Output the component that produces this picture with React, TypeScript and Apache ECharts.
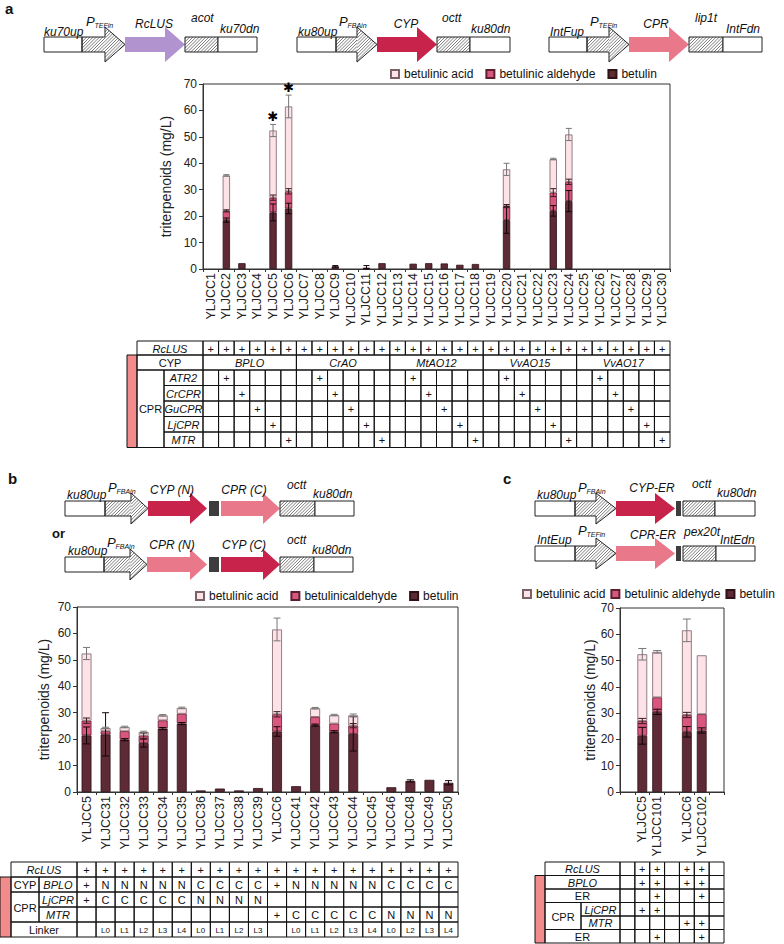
import React, { useEffect, useRef } from 'react';
import * as echarts from 'echarts';

const FONT = 'Liberation Sans, Arial, Helvetica, sans-serif';
const W = 784;
const H = 944;

// ---------------- data ----------------
const namesAC = ['betulin', 'betulinic aldehyde', 'betulinic acid'];
const namesB = ['betulin', 'betulinicaldehyde', 'betulinic acid'];
const legendAC = ['betulinic acid', 'betulinic aldehyde', 'betulin'];
const legendB = ['betulinic acid', 'betulinicaldehyde', 'betulin'];
const yTicks = { min: 0, max: 70, interval: 10 };

const catsA = ['YLJCC1', 'YLJCC2', 'YLJCC3', 'YLJCC4', 'YLJCC5', 'YLJCC6', 'YLJCC7', 'YLJCC8', 'YLJCC9', 'YLJCC10', 'YLJCC11', 'YLJCC12', 'YLJCC13', 'YLJCC14', 'YLJCC15', 'YLJCC16', 'YLJCC17', 'YLJCC18', 'YLJCC19', 'YLJCC20', 'YLJCC21', 'YLJCC22', 'YLJCC23', 'YLJCC24', 'YLJCC25', 'YLJCC26', 'YLJCC27', 'YLJCC28', 'YLJCC29', 'YLJCC30'];
const betulinA = [0, 18.5, 2.2, 0, 21.4, 22.9, 0, 0, 1.0, 0, 0.5, 2.2, 0, 2.0, 2.2, 2.1, 1.6, 1.9, 0, 18.5, 0, 0, 22.0, 25.7, 0, 0, 0, 0, 0, 0];
const aldehydeA = [0, 3.5, 0, 0, 5.6, 6.5, 0, 0, 0, 0, 0, 0, 0, 0, 0, 0, 0, 0, 0, 5.3, 0, 0, 6.9, 7.3, 0, 0, 0, 0, 0, 0];
const acidA = [0, 13.4, 0, 0, 25.4, 32.1, 0, 0, 0, 0, 0, 0, 0, 0, 0, 0, 0, 0, 0, 13.9, 0, 0, 12.7, 17.9, 0, 0, 0, 0, 0, 0];
const errBetulinA = [0, 0.8, 0, 0, 3.2, 2.0, 0, 0, 0.3, 0, 0.8, 0, 0, 0, 0, 0, 0, 0, 0, 5.0, 0, 0, 2.0, 4.0, 0, 0, 0, 0, 0, 0];
const errAldehydeA = [0, 0.4, 0, 0, 1.0, 1.0, 0, 0, 0, 0, 0, 0, 0, 0, 0, 0, 0, 0, 0, 0.6, 0, 0, 1.5, 1.0, 0, 0, 0, 0, 0, 0];
const errAcidA = [0, 0.3, 0, 0, 2.3, 4.3, 0, 0, 0, 0, 0, 0, 0, 0, 0, 0, 0, 0, 0, 2.3, 0, 0, 0.3, 2.3, 0, 0, 0, 0, 0, 0];
const starsA = ['YLJCC5', 'YLJCC6'];

const catsB = ['YLJCC5', 'YLJCC31', 'YLJCC32', 'YLJCC33', 'YLJCC34', 'YLJCC35', 'YLJCC36', 'YLJCC37', 'YLJCC38', 'YLJCC39', 'YLJCC6', 'YLJCC41', 'YLJCC42', 'YLJCC43', 'YLJCC44', 'YLJCC45', 'YLJCC46', 'YLJCC48', 'YLJCC49', 'YLJCC50'];
const betulinB = [21.4, 21.8, 19.8, 18.5, 24.0, 25.9, 0.6, 1.3, 0.6, 1.5, 22.9, 2.2, 25.3, 22.8, 22.0, 0, 1.8, 4.2, 4.6, 3.5];
const aldehydeB = [5.6, 1.2, 3.2, 2.8, 3.1, 3.7, 0, 0, 0, 0, 6.5, 0, 3.1, 3.1, 3.1, 0, 0, 0, 0, 0];
const acidB = [25.4, 1.2, 1.6, 1.4, 1.9, 2.2, 0, 0, 0, 0, 32.1, 0, 3.3, 3.2, 3.9, 0, 0, 0, 0, 0];
const errBetulinB = [3.2, 8.2, 0.4, 1.5, 0.4, 0.4, 0, 0, 0, 0, 1.8, 0, 0.4, 0.4, 6.5, 0, 0, 0.4, 0, 0.8];
const errAldehydeB = [1.0, 0, 0, 1.0, 0, 0, 0, 0, 0, 0, 1.0, 0, 0, 0, 0.8, 0, 0, 0, 0, 0];
const errAcidB = [2.3, 0.3, 0.3, 0.3, 0.3, 0.3, 0, 0, 0, 0, 4.3, 0, 0.3, 0.3, 0.5, 0, 0, 0, 0, 0];

const catsC = [' ', 'YLJCC5', 'YLJCC101', '  ', 'YLJCC6', 'YLJCC102', '   '];
const betulinC = [0, 21.4, 30.5, 0, 22.9, 23.4, 0];
const aldehydeC = [0, 5.6, 5.5, 0, 6.4, 6.2, 0];
const acidC = [0, 25.4, 17.3, 0, 32.2, 22.4, 0];
const errBetulinC = [0, 3.2, 1.0, 0, 2.0, 1.0, 0];
const errAldehydeC = [0, 1.0, 0, 0, 1.0, 0, 0];
const errAcidC = [0, 2.2, 0.5, 0, 4.3, 0, 0];

// table a
const rclusA = ['+', '+', '+', '+', '+', '+', '+', '+', '+', '+', '+', '+', '+', '+', '+', '+', '+', '+', '+', '+', '+', '+', '+', '+', '+', '+', '+', '+', '+', '+'];
const cypGroupsA = ['BPLO', 'CrAO', 'MtAO12', 'VvAO15', 'VvAO17'];
const cprRowsA = ['ATR2', 'CrCPR', 'GuCPR', 'LjCPR', 'MTR'];
const cprOfStrainA = ['', 'ATR2', 'CrCPR', 'GuCPR', 'LjCPR', 'MTR', '', 'ATR2', 'CrCPR', 'GuCPR', 'LjCPR', 'MTR', '', 'ATR2', 'CrCPR', 'GuCPR', 'LjCPR', 'MTR', '', 'ATR2', 'CrCPR', 'GuCPR', 'LjCPR', 'MTR', '', 'ATR2', 'CrCPR', 'GuCPR', 'LjCPR', 'MTR'];

// table b
const rclusB = ['+', '+', '+', '+', '+', '+', '+', '+', '+', '+', '+', '+', '+', '+', '+', '+', '+', '+', '+', '+'];
const bploB = ['+', 'N', 'N', 'N', 'N', 'N', 'C', 'C', 'C', 'C', '+', 'N', 'N', 'N', 'N', 'N', 'C', 'C', 'C', 'C'];
const ljcprB = ['+', 'C', 'C', 'C', 'C', 'C', 'N', 'N', 'N', 'N', '', '', '', '', '', '', '', '', '', ''];
const mtrB = ['', '', '', '', '', '', '', '', '', '', '+', 'C', 'C', 'C', 'C', 'C', 'N', 'N', 'N', 'N'];
const linkerB = ['', 'L0', 'L1', 'L2', 'L3', 'L4', 'L0', 'L1', 'L2', 'L3', '', 'L0', 'L1', 'L2', 'L3', 'L4', 'L0', 'L2', 'L3', 'L4'];

// table c
const rclusC = ['', '+', '+', '', '+', '+', ''];
const bploC = ['', '+', '+', '', '+', '+', ''];
const cypErC = ['', '', '+', '', '', '+', ''];
const ljcprC = ['', '+', '+', '', '', '', ''];
const mtrC = ['', '', '', '', '+', '+', ''];
const cprErC = ['', '', '+', '', '', '+', ''];

// ---------------- layout ----------------
const GA = { left: 203, top: 84, width: 467, height: 185 };
const GB = { left: 77, top: 607, width: 381, height: 185 };
const GC = { left: 620, top: 608, width: 104, height: 184 };

const COL_BET = '#5e2a36';
const COL_ALD = '#d9577f';
const COL_ACID = '#fde2e8';
const COL_CYP = '#c8234a';
const COL_CPR = '#e9788b';
const COL_LUS = '#b193cf';
const COL_PINK = '#f28b8b';
const INK = '#111';

// ---------------- helpers ----------------
function txt(text: string, x: number, y: number, o: any = {}): any {
  const align = o.align || 'left';
  const va = o.va || 'middle';
  return {
    type: 'text',
    silent: true,
    z: 20,
    style: {
      text, x, y,
      fill: o.fill || INK,
      fontSize: o.size || 12,
      fontFamily: FONT,
      fontStyle: o.italic ? 'italic' : 'normal',
      fontWeight: o.bold ? 'bold' : 'normal',
      align, textAlign: align,
      verticalAlign: va, textVerticalAlign: va,
    },
  };
}

function rectEl(x: number, y: number, w: number, h: number, fill: string, stroke?: string, lw = 1, z = 10): any {
  return {
    type: 'rect', silent: true, z,
    shape: { x, y, width: w, height: h },
    style: { fill, stroke: stroke || 'none', lineWidth: stroke ? lw : 0 },
  };
}

function clipConvex(poly: number[][], p0: number[], p1: number[]): number[][] | null {
  const n = poly.length;
  let area = 0;
  for (let i = 0; i < n; i++) {
    const a = poly[i], b = poly[(i + 1) % n];
    area += a[0] * b[1] - b[0] * a[1];
  }
  const s = area > 0 ? 1 : -1;
  let t0 = 0, t1 = 1;
  const dx = p1[0] - p0[0], dy = p1[1] - p0[1];
  for (let i = 0; i < n; i++) {
    const a = poly[i], b = poly[(i + 1) % n];
    const ex = b[0] - a[0], ey = b[1] - a[1];
    const nx = -ey * s, ny = ex * s;
    const N = nx * (p0[0] - a[0]) + ny * (p0[1] - a[1]);
    const D = nx * dx + ny * dy;
    if (Math.abs(D) < 1e-9) { if (N < 0) return null; continue; }
    const t = -N / D;
    if (D > 0) t0 = Math.max(t0, t); else t1 = Math.min(t1, t);
    if (t0 > t1) return null;
  }
  return [[p0[0] + dx * t0, p0[1] + dy * t0], [p0[0] + dx * t1, p0[1] + dy * t1]];
}

function hatch(poly: number[][], sp = 3.2): any[] {
  const xs = poly.map((p) => p[0]), ys = poly.map((p) => p[1]);
  const minX = Math.min(...xs), maxX = Math.max(...xs), minY = Math.min(...ys), maxY = Math.max(...ys);
  const out: any[] = [];
  for (let c = minX + minY + sp / 2; c < maxX + maxY; c += sp) {
    const p0 = [minX - 2, c - (minX - 2)], p1 = [maxX + 2, c - (maxX + 2)];
    const seg = clipConvex(poly, p0, p1);
    if (seg) {
      out.push({
        type: 'line', silent: true, z: 11,
        shape: { x1: seg[0][0], y1: seg[0][1], x2: seg[1][0], y2: seg[1][1] },
        style: { stroke: '#444', lineWidth: 0.7 },
      });
    }
  }
  return out;
}

type Part = [string, number, number, string?];
function construct(parts: Part[], top: number, headLen: number, ext: number): any[] {
  const h = 15, mid = top + h / 2;
  const els: any[] = [];
  for (const [kind, x0, x1, color] of parts) {
    if (kind === 'box') {
      els.push(rectEl(x0, top, x1 - x0, h, '#fff', '#222', 1, 12));
    } else if (kind === 'hatch') {
      els.push(rectEl(x0, top, x1 - x0, h, '#fff', undefined, 0, 10));
      els.push(...hatch([[x0, top], [x1, top], [x1, top + h], [x0, top + h]]));
      els.push(rectEl(x0, top, x1 - x0, h, 'none', '#222', 1, 12));
    } else if (kind === 'prom' || kind === 'gene') {
      const xh = x1 - headLen;
      const pts = [[x0, top], [xh, top], [xh, top - ext], [x1, mid], [xh, top + h + ext], [xh, top + h], [x0, top + h]];
      if (kind === 'gene') {
        els.push({ type: 'polygon', silent: true, z: 10, shape: { points: pts }, style: { fill: color, stroke: 'none' } });
      } else {
        els.push({ type: 'polygon', silent: true, z: 10, shape: { points: pts }, style: { fill: '#fff', stroke: 'none' } });
        els.push(...hatch([[x0, top], [xh, top], [xh, top + h], [x0, top + h]]));
        els.push(...hatch([[xh, top - ext], [x1, mid], [xh, top + h + ext]]));
        els.push({ type: 'polygon', silent: true, z: 12, shape: { points: pts }, style: { fill: 'none', stroke: '#222', lineWidth: 1 } });
      }
    } else if (kind === 'link') {
      els.push(rectEl(x0, top, x1 - x0, h, '#3d3d3d', undefined, 0, 12));
    }
  }
  return els;
}

function promLabel(x: number, y: number, sub: string): any[] {
  return [txt('P', x, y, { italic: true, size: 13 }), txt(sub, x + 8.5, y + 4, { italic: true, size: 7 })];
}

function cell(x: number, y: number, w: number, h: number, text: string, o: any = {}): any[] {
  const els: any[] = [{
    type: 'rect', silent: true, z: 15,
    shape: { x, y, width: w, height: h },
    style: { fill: 'none', stroke: INK, lineWidth: 1 },
  }];
  if (text) els.push(txt(text, x + w / 2, y + h / 2 + 0.5, { align: 'center', size: o.size || 11, italic: o.italic }));
  return els;
}

function buildGraphics(): any[] {
  const g: any[] = [];
  // panel letters
  g.push(txt('a', 5, 8, { bold: true, size: 15 }));
  g.push(txt('b', 8, 478, { bold: true, size: 15 }));
  g.push(txt('c', 503, 478, { bold: true, size: 15 }));
  g.push(txt('or', 52, 533, { bold: true, size: 13 }));

  // ---- constructs a ----
  const ta = 37;
  g.push(...construct([['box', 44, 82], ['prom', 82, 125], ['gene', 125, 185, COL_LUS], ['hatch', 185, 218], ['box', 218, 257]], ta, 20, 10));
  g.push(txt('ku70up', 44, 32, { italic: true }), ...promLabel(86, 21, 'TEFin'), txt('RcLUS', 154, 24, { italic: true, align: 'center' }), txt('acot', 191, 18, { italic: true }), txt('ku70dn', 220, 29, { italic: true }));
  g.push(...construct([['box', 297, 336], ['prom', 336, 377], ['gene', 377, 437, COL_CYP], ['hatch', 437, 470], ['box', 470, 510]], ta, 20, 10));
  g.push(txt('ku80up', 298, 32, { italic: true }), ...promLabel(339, 21, 'FBAin'), txt('CYP', 406, 24, { italic: true, align: 'center' }), txt('octt', 442, 18, { italic: true }), txt('ku80dn', 471, 29, { italic: true }));
  g.push(...construct([['box', 549, 587], ['prom', 587, 629], ['gene', 629, 689, COL_CPR], ['hatch', 689, 723], ['box', 723, 762]], ta, 20, 10));
  g.push(txt('IntFup', 550, 32, { italic: true }), ...promLabel(590, 21, 'TEFin'), txt('CPR', 656, 24, { italic: true, align: 'center' }), txt('lip1t', 695, 18, { italic: true }), txt('IntFdn', 726, 29, { italic: true }));

  // ---- constructs b ----
  const tb1 = 501, tb2 = 557;
  g.push(...construct([['box', 65, 105], ['prom', 105, 148], ['gene', 148, 207, COL_CYP], ['link', 209, 219], ['gene', 221, 280, COL_CPR], ['hatch', 280, 315], ['box', 315, 354]], tb1, 17, 8));
  g.push(txt('ku80up', 67, 495, { italic: true }), ...promLabel(108, 487, 'FBAin'), txt('CYP (N)', 172, 490, { italic: true, align: 'center' }), txt('CPR (C)', 244, 490, { italic: true, align: 'center' }), txt('octt', 287, 485, { italic: true }), txt('ku80dn', 313, 494, { italic: true }));
  g.push(...construct([['box', 65, 104], ['prom', 104, 147], ['gene', 147, 207, COL_CPR], ['link', 209, 219], ['gene', 221, 280, COL_CYP], ['hatch', 280, 314], ['box', 314, 353]], tb2, 17, 8));
  g.push(txt('ku80up', 68, 551, { italic: true }), ...promLabel(107, 542, 'FBAin'), txt('CPR (N)', 172, 545, { italic: true, align: 'center' }), txt('CYP (C)', 244, 545, { italic: true, align: 'center' }), txt('octt', 287, 540, { italic: true }), txt('ku80dn', 312, 550, { italic: true }));

  // ---- constructs c ----
  const tc1 = 501, tc2 = 546;
  g.push(...construct([['box', 535, 575], ['prom', 575, 616], ['gene', 616, 675, COL_CYP], ['link', 676, 681], ['hatch', 683, 715], ['box', 715, 755]], tc1, 20, 8));
  g.push(txt('ku80up', 537, 495, { italic: true }), ...promLabel(578, 487, 'FBAin'), txt('CYP-ER', 652, 488, { italic: true, align: 'center' }), txt('octt', 692, 484, { italic: true }), txt('ku80dn', 717, 493, { italic: true }));
  g.push(...construct([['box', 535, 575], ['prom', 575, 616], ['gene', 616, 675, COL_CPR], ['link', 676, 681], ['hatch', 683, 716], ['box', 716, 755]], tc2, 20, 8));
  g.push(txt('IntEup', 537, 540, { italic: true }), ...promLabel(578, 530, 'TEFin'), txt('CPR-ER', 653, 535, { italic: true, align: 'center' }), txt('pex20t', 684, 532, { italic: true }), txt('IntEdn', 720, 540, { italic: true }));

  // ---- table a ----
  {
    const x0 = 137, x1 = 164, dx = GA.left, cw = GA.width / catsA.length;
    const ry = [341, 355, 370, 385.5, 401, 416.5, 432, 447.5];
    g.push(rectEl(127, ry[1], 10, ry[7] - ry[1], COL_PINK, INK, 1, 14));
    g.push(...cell(x0, ry[0], dx - x0, ry[1] - ry[0], 'RcLUS', { italic: true }));
    rclusA.forEach((v, i) => g.push(...cell(dx + i * cw, ry[0], cw, ry[1] - ry[0], v)));
    g.push(...cell(x0, ry[1], dx - x0, ry[2] - ry[1], 'CYP'));
    const per = catsA.length / cypGroupsA.length;
    cypGroupsA.forEach((nm, gi) => g.push(...cell(dx + gi * per * cw, ry[1], per * cw, ry[2] - ry[1], nm, { italic: true })));
    g.push(...cell(x0, ry[2], x1 - x0, ry[7] - ry[2], 'CPR'));
    cprRowsA.forEach((nm, r) => {
      const y = ry[2 + r], h = ry[3 + r] - ry[2 + r];
      g.push(...cell(x1, y, dx - x1, h, nm, { italic: true }));
      cprOfStrainA.forEach((v, i) => g.push(...cell(dx + i * cw, y, cw, h, v === nm ? '+' : '')));
    });
  }

  // ---- table b ----
  {
    const x0 = 11, x1 = 39, dx = GB.left, cw = GB.width / catsB.length;
    const ry = [862, 877, 892, 907, 922, 937];
    g.push(rectEl(0, ry[1], 11, ry[5] - ry[1], COL_PINK, INK, 1, 14));
    g.push(...cell(x0, ry[0], dx - x0, 15, 'RcLUS', { italic: true }));
    rclusB.forEach((v, i) => g.push(...cell(dx + i * cw, ry[0], cw, 15, v)));
    g.push(...cell(x0, ry[1], x1 - x0, 15, 'CYP'));
    g.push(...cell(x1, ry[1], dx - x1, 15, 'BPLO', { italic: true }));
    bploB.forEach((v, i) => g.push(...cell(dx + i * cw, ry[1], cw, 15, v)));
    g.push(...cell(x0, ry[2], x1 - x0, 30, 'CPR'));
    g.push(...cell(x1, ry[2], dx - x1, 15, 'LjCPR', { italic: true }));
    ljcprB.forEach((v, i) => g.push(...cell(dx + i * cw, ry[2], cw, 15, v)));
    g.push(...cell(x1, ry[3], dx - x1, 15, 'MTR', { italic: true }));
    mtrB.forEach((v, i) => g.push(...cell(dx + i * cw, ry[3], cw, 15, v)));
    g.push(...cell(x0, ry[4], dx - x0, 15, 'Linker'));
    linkerB.forEach((v, i) => g.push(...cell(dx + i * cw, ry[4], cw, 15, v, { size: 8 })));
  }

  // ---- table c ----
  {
    const x0 = 545, x1 = 581, dx = GC.left, cw = GC.width / catsC.length;
    const ry = [862, 875.5, 889, 902.5, 916, 929.5, 943];
    const h = 13.5;
    g.push(rectEl(535, ry[1], 10, ry[6] - ry[1], COL_PINK, INK, 1, 14));
    g.push(...cell(x0, ry[0], dx - x0, h, 'RcLUS', { italic: true }));
    rclusC.forEach((v, i) => g.push(...cell(dx + i * cw, ry[0], cw, h, v)));
    g.push(...cell(x0, ry[1], dx - x0, h, 'BPLO', { italic: true }));
    bploC.forEach((v, i) => g.push(...cell(dx + i * cw, ry[1], cw, h, v)));
    g.push(...cell(x0, ry[2], dx - x0, h, 'ER'));
    cypErC.forEach((v, i) => g.push(...cell(dx + i * cw, ry[2], cw, h, v)));
    g.push(...cell(x0, ry[3], x1 - x0, 2 * h, 'CPR'));
    g.push(...cell(x1, ry[3], dx - x1, h, 'LjCPR', { italic: true }));
    ljcprC.forEach((v, i) => g.push(...cell(dx + i * cw, ry[3], cw, h, v)));
    g.push(...cell(x1, ry[4], dx - x1, h, 'MTR', { italic: true }));
    mtrC.forEach((v, i) => g.push(...cell(dx + i * cw, ry[4], cw, h, v)));
    g.push(...cell(x0, ry[5], dx - x0, h, 'ER'));
    cprErC.forEach((v, i) => g.push(...cell(dx + i * cw, ry[5], cw, h, v)));
  }
  return g;
}

function barSeries(names: string[], vals: number[][], idx: number, stack: string, barWidth: string): any[] {
  const cols = [COL_BET, COL_ALD, COL_ACID];
  const borders = ['#2e1217', '#5a2030', '#7a6166'];
  return vals.map((v, k) => ({
    type: 'bar', name: names[k], stack, xAxisIndex: idx, yAxisIndex: idx, barWidth,
    data: v.map((x) => (x > 0 ? x : null)),
    itemStyle: { color: cols[k], borderColor: borders[k], borderWidth: 0.8 },
    emphasis: { disabled: true }, silent: true,
  }));
}

function errSeries(vals: number[][], errs: number[][], idx: number, cap: number): any {
  const data: number[][] = [];
  const n = vals[0].length;
  for (let i = 0; i < n; i++) {
    let cum = 0;
    for (let k = 0; k < 3; k++) {
      cum += vals[k][i];
      if (errs[k][i] > 0) data.push([i, cum, errs[k][i], k]);
    }
  }
  const colors = ['#150508', '#3a1a20', '#777'];
  return {
    type: 'custom', xAxisIndex: idx, yAxisIndex: idx, silent: true, z: 5,
    data,
    renderItem: (_p: any, api: any) => {
      const x = api.value(0), y = api.value(1), e = api.value(2), k = api.value(3);
      const t = api.coord([x, y + e]);
      const b = api.coord([x, Math.max(0, y - e)]);
      const st = { stroke: colors[k], lineWidth: 1 };
      return {
        type: 'group', children: [
          { type: 'line', shape: { x1: t[0], y1: t[1], x2: b[0], y2: b[1] }, style: st },
          { type: 'line', shape: { x1: t[0] - cap, y1: t[1], x2: t[0] + cap, y2: t[1] }, style: st },
          { type: 'line', shape: { x1: b[0] - cap, y1: b[1], x2: b[0] + cap, y2: b[1] }, style: st },
        ],
      };
    },
  };
}

function starSeries(): any {
  const data = starsA.map((nm) => {
    const i = catsA.indexOf(nm);
    return [i, betulinA[i] + aldehydeA[i] + acidA[i] + errAcidA[i] + 3];
  });
  return {
    type: 'custom', xAxisIndex: 0, yAxisIndex: 0, silent: true, z: 6, data,
    renderItem: (_p: any, api: any) => {
      const c = api.coord([api.value(0), api.value(1)]);
      return {
        type: 'text', x: c[0], y: c[1],
        style: { text: '✱', fontSize: 13, fontFamily: 'DejaVu Sans', fill: '#000', align: 'center', textAlign: 'center', verticalAlign: 'middle', textVerticalAlign: 'middle' },
      };
    },
  };
}

function axes(cats: string[], idx: number, nameGap: number): { x: any; y: any } {
  return {
    x: {
      type: 'category', gridIndex: idx, data: cats,
      axisLine: { show: true, lineStyle: { color: '#333', width: 1 } },
      axisTick: { show: true, length: 3, lineStyle: { color: '#333' } },
      axisLabel: { rotate: 90, interval: 0, fontSize: 12.5, color: '#222', margin: 4, fontFamily: FONT },
      splitLine: { show: false },
    },
    y: {
      type: 'value', gridIndex: idx, ...yTicks,
      name: 'triterpenoids (mg/L)', nameLocation: 'middle', nameGap,
      nameTextStyle: { fontSize: 14, color: '#222', fontFamily: FONT },
      axisLine: { show: true, lineStyle: { color: '#333', width: 1 } },
      axisTick: { show: true, length: 4, lineStyle: { color: '#333' } },
      axisLabel: { fontSize: 12, color: '#222', margin: 6, fontFamily: FONT },
      splitLine: { show: false },
    },
  };
}

function legend(data: string[], left: number, top: number, gap: number): any {
  return {
    data, left, top, width: 600, orient: 'horizontal', icon: 'rect', itemWidth: 8, itemHeight: 8, itemGap: gap,
    selectedMode: false, padding: 0,
    textStyle: { fontSize: 12, color: '#111', fontFamily: FONT },
  };
}

function buildOption(): any {
  const valsA = [betulinA, aldehydeA, acidA];
  const valsB = [betulinB, aldehydeB, acidB];
  const valsC = [betulinC, aldehydeC, acidC];
  const aA = axes(catsA, 0, 27), aB = axes(catsB, 1, 26), aC = axes(catsC, 2, 22);
  const gridStyle = { show: true, borderColor: '#333', borderWidth: 1, backgroundColor: 'transparent', containLabel: false };
  return {
    animation: false,
    backgroundColor: '#fff',
    textStyle: { fontFamily: FONT },
    grid: [{ ...GA, ...gridStyle }, { ...GB, ...gridStyle }, { ...GC, ...gridStyle }],
    xAxis: [aA.x, aB.x, aC.x],
    yAxis: [aA.y, aB.y, aC.y],
    legend: [legend(legendAC, 390, 68, 12), legend(legendB, 195, 590, 12), legend(legendAC, 522, 588, 5)],
    series: [
      ...barSeries(namesAC, valsA, 0, 'a', '47%'),
      ...barSeries(namesB, valsB, 1, 'b', '52%'),
      ...barSeries(namesAC, valsC, 2, 'c', '66%'),
      errSeries(valsA, [errBetulinA, errAldehydeA, errAcidA], 0, 3),
      errSeries(valsB, [errBetulinB, errAldehydeB, errAcidB], 1, 3.5),
      errSeries(valsC, [errBetulinC, errAldehydeC, errAcidC], 2, 4),
      starSeries(),
    ],
    graphic: { elements: buildGraphics() },
  };
}

export default function App() {
  const ref = useRef<HTMLDivElement>(null);
  useEffect(() => {
    if (!ref.current) return;
    const chart = echarts.init(ref.current, null, { renderer: 'svg', width: W, height: H });
    chart.setOption(buildOption());
    return () => chart.dispose();
  }, []);
  return <div ref={ref} style={{ position: 'fixed', left: 0, top: 0, width: W, height: H, background: '#fff' }} />;
}
